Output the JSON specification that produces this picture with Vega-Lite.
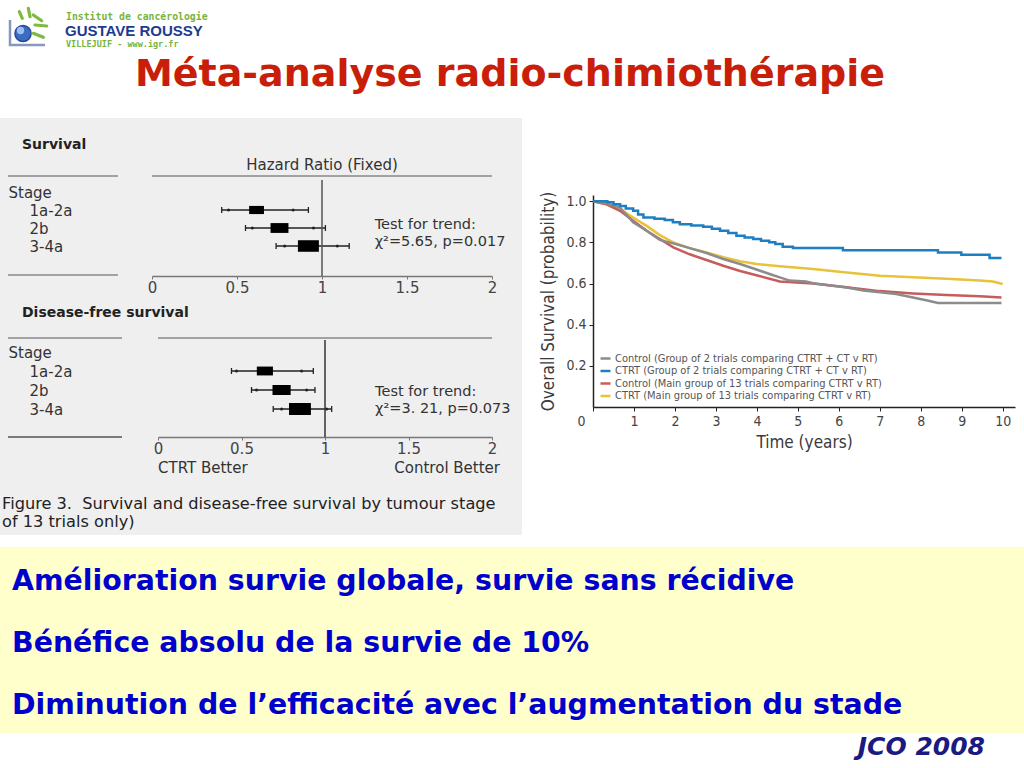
{
  "$schema": "https://vega.github.io/schema/vega-lite/v6.json",
  "padding": 0,
  "background": "#ffffff",
  "spacing": 12,
  "bounds": "full",
  "resolve": {"scale": {"color": "independent", "size": "independent"}, "legend": {"color": "independent", "size": "independent"}},
  "config": {"view": {"stroke": null}, "axis": {"grid": false}},
  "datasets": {
    "forest": [
      {"outcome": "Survival", "stage": "1a-2a", "hr": 0.615, "ci99_lo": 0.41, "ci99_hi": 0.92, "ci95_lo": 0.45, "ci95_hi": 0.83, "weight": 22},
      {"outcome": "Survival", "stage": "2b", "hr": 0.75, "ci99_lo": 0.55, "ci99_hi": 1.02, "ci95_lo": 0.59, "ci95_hi": 0.95, "weight": 32},
      {"outcome": "Survival", "stage": "3-4a", "hr": 0.92, "ci99_lo": 0.73, "ci99_hi": 1.16, "ci95_lo": 0.78, "ci95_hi": 1.09, "weight": 44},
      {"outcome": "DFS", "stage": "1a-2a", "hr": 0.64, "ci99_lo": 0.44, "ci99_hi": 0.93, "ci95_lo": 0.47, "ci95_hi": 0.86, "weight": 26},
      {"outcome": "DFS", "stage": "2b", "hr": 0.74, "ci99_lo": 0.56, "ci99_hi": 0.94, "ci95_lo": 0.59, "ci95_hi": 0.89, "weight": 33},
      {"outcome": "DFS", "stage": "3-4a", "hr": 0.85, "ci99_lo": 0.69, "ci99_hi": 1.04, "ci95_lo": 0.74, "ci95_hi": 1.01, "weight": 48}
    ],
    "arms": [
      {"arm": "ctl2", "label": "Control (Group of 2 trials comparing CTRT + CT v RT)"},
      {"arm": "ctrt2", "label": "CTRT (Group of 2 trials comparing CTRT + CT v RT)"},
      {"arm": "ctl13", "label": "Control (Main group of 13 trials comparing CTRT v RT)"},
      {"arm": "ctrt13", "label": "CTRT (Main group of 13 trials comparing CTRT v RT)"}
    ],
    "km": [
      {"arm": "ctrt2", "t": 0, "s": 1.0}, {"arm": "ctrt2", "t": 0.35, "s": 0.995}, {"arm": "ctrt2", "t": 0.5, "s": 0.985}, {"arm": "ctrt2", "t": 0.66, "s": 0.977}, {"arm": "ctrt2", "t": 0.8, "s": 0.965}, {"arm": "ctrt2", "t": 0.98, "s": 0.953}, {"arm": "ctrt2", "t": 1.1, "s": 0.935}, {"arm": "ctrt2", "t": 1.23, "s": 0.921}, {"arm": "ctrt2", "t": 1.5, "s": 0.915}, {"arm": "ctrt2", "t": 1.75, "s": 0.908}, {"arm": "ctrt2", "t": 1.95, "s": 0.898}, {"arm": "ctrt2", "t": 2.12, "s": 0.888}, {"arm": "ctrt2", "t": 2.4, "s": 0.882}, {"arm": "ctrt2", "t": 2.69, "s": 0.876}, {"arm": "ctrt2", "t": 2.9, "s": 0.866}, {"arm": "ctrt2", "t": 3.1, "s": 0.856}, {"arm": "ctrt2", "t": 3.3, "s": 0.845}, {"arm": "ctrt2", "t": 3.5, "s": 0.832}, {"arm": "ctrt2", "t": 3.7, "s": 0.824}, {"arm": "ctrt2", "t": 3.91, "s": 0.816}, {"arm": "ctrt2", "t": 4.1, "s": 0.808}, {"arm": "ctrt2", "t": 4.3, "s": 0.8}, {"arm": "ctrt2", "t": 4.45, "s": 0.792}, {"arm": "ctrt2", "t": 4.63, "s": 0.778}, {"arm": "ctrt2", "t": 4.88, "s": 0.772}, {"arm": "ctrt2", "t": 6.1, "s": 0.762}, {"arm": "ctrt2", "t": 8.42, "s": 0.751}, {"arm": "ctrt2", "t": 8.99, "s": 0.74}, {"arm": "ctrt2", "t": 9.68, "s": 0.724}, {"arm": "ctrt2", "t": 9.97, "s": 0.724},
      {"arm": "ctrt13", "t": 0, "s": 1.0}, {"arm": "ctrt13", "t": 0.33, "s": 0.985}, {"arm": "ctrt13", "t": 0.66, "s": 0.961}, {"arm": "ctrt13", "t": 0.98, "s": 0.921}, {"arm": "ctrt13", "t": 1.31, "s": 0.88}, {"arm": "ctrt13", "t": 1.63, "s": 0.835}, {"arm": "ctrt13", "t": 1.96, "s": 0.8}, {"arm": "ctrt13", "t": 2.36, "s": 0.772}, {"arm": "ctrt13", "t": 2.77, "s": 0.751}, {"arm": "ctrt13", "t": 3.18, "s": 0.728}, {"arm": "ctrt13", "t": 3.59, "s": 0.708}, {"arm": "ctrt13", "t": 3.99, "s": 0.695}, {"arm": "ctrt13", "t": 4.56, "s": 0.684}, {"arm": "ctrt13", "t": 5.37, "s": 0.67}, {"arm": "ctrt13", "t": 6.19, "s": 0.654}, {"arm": "ctrt13", "t": 7.0, "s": 0.638}, {"arm": "ctrt13", "t": 7.81, "s": 0.63}, {"arm": "ctrt13", "t": 8.63, "s": 0.623}, {"arm": "ctrt13", "t": 9.44, "s": 0.614}, {"arm": "ctrt13", "t": 9.76, "s": 0.61}, {"arm": "ctrt13", "t": 9.93, "s": 0.601}, {"arm": "ctrt13", "t": 10.0, "s": 0.598},
      {"arm": "ctl13", "t": 0, "s": 1.0}, {"arm": "ctl13", "t": 0.33, "s": 0.985}, {"arm": "ctl13", "t": 0.66, "s": 0.953}, {"arm": "ctl13", "t": 0.98, "s": 0.905}, {"arm": "ctl13", "t": 1.31, "s": 0.856}, {"arm": "ctl13", "t": 1.63, "s": 0.816}, {"arm": "ctl13", "t": 1.96, "s": 0.776}, {"arm": "ctl13", "t": 2.36, "s": 0.742}, {"arm": "ctl13", "t": 2.77, "s": 0.714}, {"arm": "ctl13", "t": 3.18, "s": 0.686}, {"arm": "ctl13", "t": 3.59, "s": 0.661}, {"arm": "ctl13", "t": 3.99, "s": 0.64}, {"arm": "ctl13", "t": 4.56, "s": 0.61}, {"arm": "ctl13", "t": 5.37, "s": 0.6}, {"arm": "ctl13", "t": 6.19, "s": 0.582}, {"arm": "ctl13", "t": 7.0, "s": 0.563}, {"arm": "ctl13", "t": 7.81, "s": 0.552}, {"arm": "ctl13", "t": 8.63, "s": 0.544}, {"arm": "ctl13", "t": 9.44, "s": 0.538}, {"arm": "ctl13", "t": 9.97, "s": 0.532},
      {"arm": "ctl2", "t": 0, "s": 1.0}, {"arm": "ctl2", "t": 0.33, "s": 0.99}, {"arm": "ctl2", "t": 0.66, "s": 0.969}, {"arm": "ctl2", "t": 0.98, "s": 0.897}, {"arm": "ctl2", "t": 1.31, "s": 0.856}, {"arm": "ctl2", "t": 1.63, "s": 0.812}, {"arm": "ctl2", "t": 1.96, "s": 0.795}, {"arm": "ctl2", "t": 2.36, "s": 0.772}, {"arm": "ctl2", "t": 2.77, "s": 0.748}, {"arm": "ctl2", "t": 3.18, "s": 0.719}, {"arm": "ctl2", "t": 3.59, "s": 0.695}, {"arm": "ctl2", "t": 3.99, "s": 0.668}, {"arm": "ctl2", "t": 4.4, "s": 0.64}, {"arm": "ctl2", "t": 4.56, "s": 0.63}, {"arm": "ctl2", "t": 4.8, "s": 0.614}, {"arm": "ctl2", "t": 5.2, "s": 0.61}, {"arm": "ctl2", "t": 5.37, "s": 0.601}, {"arm": "ctl2", "t": 6.19, "s": 0.581}, {"arm": "ctl2", "t": 6.6, "s": 0.566}, {"arm": "ctl2", "t": 7.0, "s": 0.557}, {"arm": "ctl2", "t": 7.4, "s": 0.549}, {"arm": "ctl2", "t": 7.81, "s": 0.532}, {"arm": "ctl2", "t": 8.16, "s": 0.517}, {"arm": "ctl2", "t": 8.42, "s": 0.505}, {"arm": "ctl2", "t": 9.97, "s": 0.505}
    ]
  },
  "vconcat": [
    {
      "width": 1024, "height": 106,
      "data": {"values": [{}]},
      "layer": [
        {"mark": {"type": "text", "text": "Méta-analyse radio-chimiothérapie", "font": "DejaVu Sans", "fontWeight": "bold", "fontSize": 38, "color": "#c81e0a", "align": "center", "baseline": "alphabetic"}, "encoding": {"x": {"value": 510}, "y": {"value": 86}}},
        {"mark": {"type": "point", "shape": "M-12.5,-13.5V11.5H22.5", "size": 4, "filled": false, "stroke": "#8797bd", "strokeWidth": 2.5, "opacity": 1}, "encoding": {"x": {"value": 22.5}, "y": {"value": 33.5}}},
        {"mark": {"type": "point", "shape": "circle", "size": 260, "filled": true, "fill": "#3a6cc2", "stroke": "#27489a", "strokeWidth": 1.5, "opacity": 1}, "encoding": {"x": {"value": 23}, "y": {"value": 33.5}}},
        {"mark": {"type": "point", "shape": "circle", "size": 55, "filled": true, "fill": "#a8c8f5", "opacity": 0.9}, "encoding": {"x": {"value": 20.5}, "y": {"value": 30.5}}},
        {"mark": {"type": "point", "shape": "M-3.2,-21.8L-0.2,-15.2M5.8,-25.2L7.5,-16.8M10.8,-18.5L19.2,-12.8M12.5,-8.5L24.2,-7.5M10.8,-0.2L20.8,3.8", "size": 4, "filled": false, "stroke": "#7dba3e", "strokeWidth": 3.2, "strokeCap": "round", "opacity": 1}, "encoding": {"x": {"value": 22.5}, "y": {"value": 33.5}}},
        {"mark": {"type": "text", "text": "Institut de cancérologie", "font": "DejaVu Sans Mono", "fontWeight": "bold", "fontSize": 9.8, "color": "#78b43c", "align": "left", "baseline": "middle"}, "encoding": {"x": {"value": 66}, "y": {"value": 17}}},
        {"mark": {"type": "text", "text": "GUSTAVE ROUSSY", "font": "Liberation Sans", "fontWeight": "bold", "fontSize": 15, "color": "#1e3c8c", "align": "left", "baseline": "alphabetic"}, "encoding": {"x": {"value": 65}, "y": {"value": 36}}},
        {"mark": {"type": "text", "text": "VILLEJUIF - www.igr.fr", "font": "DejaVu Sans Mono", "fontWeight": "bold", "fontSize": 8.5, "color": "#78b43c", "align": "left", "baseline": "middle"}, "encoding": {"x": {"value": 66}, "y": {"value": 44}}}
      ]
    },
    {
      "hconcat": [
        {
          "vconcat": [
            {
              "width": 522, "height": 177,
              "view": {"fill": "#efefef", "stroke": null},
              "layer": [
                {"data": {"values": [{}]}, "mark": {"type": "rule", "color": "#888", "strokeWidth": 1.5}, "encoding": {"x": {"value": 8}, "x2": {"value": 118}, "y": {"value": 58}}},
                {"data": {"values": [{}]}, "mark": {"type": "rule", "color": "#888", "strokeWidth": 1.5}, "encoding": {"x": {"value": 8}, "x2": {"value": 118}, "y": {"value": 157}}},
                {
                  "data": {"name": "forest"},
                  "transform": [{"filter": "datum.outcome == 'Survival'"}],
                  "encoding": {
                    "x": {"field": "hr", "type": "quantitative", "scale": {"domain": [0, 2], "range": [152, 492], "nice": false, "zero": false}, "axis": {"title": null, "values": [0, 0.5, 1, 1.5, 2], "format": "~g", "offset": -19, "grid": false, "domainColor": "#777", "domainWidth": 1.5, "tickColor": "#777", "tickSize": 3, "labelFont": "DejaVu Sans", "labelFontSize": 15, "labelColor": "#444", "labelPadding": 1, "labelFlush": false}},
                    "y": {"field": "stage", "type": "nominal", "scale": {"type": "point", "domain": ["Stage", "1a-2a", "2b", "3-4a"], "range": [74, 128], "padding": 0}, "axis": {"title": null, "domain": false, "ticks": false, "tickSize": 0, "labelAlign": "left", "labelBaseline": "middle", "labelPadding": {"condition": {"test": "datum.value === 'Stage'", "value": -8}, "value": -29}, "labelFont": "DejaVu Sans", "labelFontSize": 15, "labelColor": "#333", "grid": false}}
                  },
                  "layer": [
                    {"mark": {"type": "rule", "color": "#222", "strokeWidth": 1.3}, "encoding": {"x": {"field": "ci99_lo", "type": "quantitative", "axis": {"title": null}}, "x2": {"field": "ci99_hi"}}},
                    {"mark": {"type": "point", "shape": "M0,-1V1", "filled": false, "size": 36, "strokeWidth": 1.3, "color": "#222", "opacity": 1}, "encoding": {"x": {"field": "ci99_lo", "type": "quantitative", "axis": {"title": null}}}},
                    {"mark": {"type": "point", "shape": "M0,-1V1", "filled": false, "size": 36, "strokeWidth": 1.3, "color": "#222", "opacity": 1}, "encoding": {"x": {"field": "ci99_hi", "type": "quantitative", "axis": {"title": null}}}},
                    {"mark": {"type": "point", "filled": true, "size": 9, "color": "#222", "opacity": 1}, "encoding": {"x": {"field": "ci95_lo", "type": "quantitative", "axis": {"title": null}}}},
                    {"mark": {"type": "point", "filled": true, "size": 9, "color": "#222", "opacity": 1}, "encoding": {"x": {"field": "ci95_hi", "type": "quantitative", "axis": {"title": null}}}},
                    {"mark": {"type": "point", "shape": "M-1,-0.55H1V0.55H-1Z", "filled": true, "color": "#000", "opacity": 1}, "encoding": {"size": {"field": "weight", "type": "quantitative", "scale": {"domain": [0, 100], "range": [0, 1000]}, "legend": null}}}
                  ]
                },
                {"data": {"values": [{}]}, "mark": {"type": "rule", "color": "#888", "strokeWidth": 1.5}, "encoding": {"x": {"datum": 0, "type": "quantitative", "axis": {"title": null}}, "x2": {"datum": 2}, "y": {"value": 58}}},
                {"data": {"values": [{}]}, "mark": {"type": "rule", "color": "#555", "strokeWidth": 1.5}, "encoding": {"x": {"datum": 1, "type": "quantitative", "axis": {"title": null}}, "y": {"value": 62}, "y2": {"value": 158}}},
                {"data": {"values": [{}]}, "mark": {"type": "text", "text": "Survival", "font": "DejaVu Sans", "fontWeight": "bold", "fontSize": 14, "color": "#222", "align": "left", "baseline": "middle"}, "encoding": {"x": {"value": 22}, "y": {"value": 27}}},
                {"data": {"values": [{}]}, "mark": {"type": "text", "text": "Hazard Ratio (Fixed)", "font": "DejaVu Sans", "fontSize": 15, "color": "#333", "align": "center", "baseline": "middle"}, "encoding": {"x": {"datum": 1, "type": "quantitative", "axis": {"title": null}}, "y": {"value": 47}}},
                {"data": {"values": [{}]}, "mark": {"type": "text", "text": "Test for trend:", "font": "DejaVu Sans", "fontSize": 14.5, "color": "#333", "align": "left", "baseline": "middle"}, "encoding": {"x": {"datum": 1.31, "type": "quantitative", "axis": {"title": null}}, "y": {"value": 106.5}}},
                {"data": {"values": [{}]}, "mark": {"type": "text", "text": "χ²=5.65, p=0.017", "font": "DejaVu Sans", "fontSize": 14.5, "color": "#333", "align": "left", "baseline": "middle"}, "encoding": {"x": {"datum": 1.31, "type": "quantitative", "axis": {"title": null}}, "y": {"value": 124}}}
              ]
            },
            {
              "width": 522, "height": 240,
              "view": {"fill": "#efefef", "stroke": null},
              "layer": [
                {"data": {"values": [{}]}, "mark": {"type": "rule", "color": "#888", "strokeWidth": 1.5}, "encoding": {"x": {"value": 8}, "x2": {"value": 122}, "y": {"value": 43}}},
                {"data": {"values": [{}]}, "mark": {"type": "rule", "color": "#555", "strokeWidth": 1.5}, "encoding": {"x": {"value": 8}, "x2": {"value": 122}, "y": {"value": 142}}},
                {
                  "data": {"name": "forest"},
                  "transform": [{"filter": "datum.outcome == 'DFS'"}],
                  "encoding": {
                    "x": {"field": "hr", "type": "quantitative", "scale": {"domain": [0, 2], "range": [158, 492], "nice": false, "zero": false}, "axis": {"title": null, "values": [0, 0.5, 1, 1.5, 2], "format": "~g", "offset": -98, "grid": false, "domainColor": "#777", "domainWidth": 1.5, "tickColor": "#777", "tickSize": 3, "labelFont": "DejaVu Sans", "labelFontSize": 15, "labelColor": "#444", "labelPadding": 1, "labelFlush": false}},
                    "y": {"field": "stage", "type": "nominal", "scale": {"type": "point", "domain": ["Stage", "1a-2a", "2b", "3-4a"], "range": [57, 114], "padding": 0}, "axis": {"title": null, "domain": false, "ticks": false, "tickSize": 0, "labelAlign": "left", "labelBaseline": "middle", "labelPadding": {"condition": {"test": "datum.value === 'Stage'", "value": -8}, "value": -29}, "labelFont": "DejaVu Sans", "labelFontSize": 15, "labelColor": "#333", "grid": false}}
                  },
                  "layer": [
                    {"mark": {"type": "rule", "color": "#222", "strokeWidth": 1.3}, "encoding": {"x": {"field": "ci99_lo", "type": "quantitative", "axis": {"title": null}}, "x2": {"field": "ci99_hi"}}},
                    {"mark": {"type": "point", "shape": "M0,-1V1", "filled": false, "size": 36, "strokeWidth": 1.3, "color": "#222", "opacity": 1}, "encoding": {"x": {"field": "ci99_lo", "type": "quantitative", "axis": {"title": null}}}},
                    {"mark": {"type": "point", "shape": "M0,-1V1", "filled": false, "size": 36, "strokeWidth": 1.3, "color": "#222", "opacity": 1}, "encoding": {"x": {"field": "ci99_hi", "type": "quantitative", "axis": {"title": null}}}},
                    {"mark": {"type": "point", "filled": true, "size": 9, "color": "#222", "opacity": 1}, "encoding": {"x": {"field": "ci95_lo", "type": "quantitative", "axis": {"title": null}}}},
                    {"mark": {"type": "point", "filled": true, "size": 9, "color": "#222", "opacity": 1}, "encoding": {"x": {"field": "ci95_hi", "type": "quantitative", "axis": {"title": null}}}},
                    {"mark": {"type": "point", "shape": "M-1,-0.55H1V0.55H-1Z", "filled": true, "color": "#000", "opacity": 1}, "encoding": {"size": {"field": "weight", "type": "quantitative", "scale": {"domain": [0, 100], "range": [0, 1000]}, "legend": null}}}
                  ]
                },
                {"data": {"values": [{}]}, "mark": {"type": "rule", "color": "#888", "strokeWidth": 1.5}, "encoding": {"x": {"datum": 0, "type": "quantitative", "axis": {"title": null}}, "x2": {"datum": 2}, "y": {"value": 43}}},
                {"data": {"values": [{}]}, "mark": {"type": "rule", "color": "#333", "strokeWidth": 1.5}, "encoding": {"x": {"datum": 1, "type": "quantitative", "axis": {"title": null}}, "y": {"value": 45}, "y2": {"value": 142}}},
                {"data": {"values": [{}]}, "mark": {"type": "text", "text": "Disease-free survival", "font": "DejaVu Sans", "fontWeight": "bold", "fontSize": 14, "color": "#222", "align": "left", "baseline": "middle"}, "encoding": {"x": {"value": 22}, "y": {"value": 18}}},
                {"data": {"values": [{}]}, "mark": {"type": "text", "text": "Test for trend:", "font": "DejaVu Sans", "fontSize": 14.5, "color": "#333", "align": "left", "baseline": "middle"}, "encoding": {"x": {"datum": 1.3, "type": "quantitative", "axis": {"title": null}}, "y": {"value": 97}}},
                {"data": {"values": [{}]}, "mark": {"type": "text", "text": "χ²=3. 21, p=0.073", "font": "DejaVu Sans", "fontSize": 14.5, "color": "#333", "align": "left", "baseline": "middle"}, "encoding": {"x": {"datum": 1.3, "type": "quantitative", "axis": {"title": null}}, "y": {"value": 113.5}}},
                {"data": {"values": [{}]}, "mark": {"type": "text", "text": "CTRT Better", "font": "DejaVu Sans", "fontSize": 15, "color": "#333", "align": "left", "baseline": "middle"}, "encoding": {"x": {"datum": 0, "type": "quantitative", "axis": {"title": null}}, "y": {"value": 173}}},
                {"data": {"values": [{}]}, "mark": {"type": "text", "text": "Control Better", "font": "DejaVu Sans", "fontSize": 15, "color": "#333", "align": "right", "baseline": "middle", "dx": 8}, "encoding": {"x": {"datum": 2, "type": "quantitative", "axis": {"title": null}}, "y": {"value": 173}}},
                {"data": {"values": [{}]}, "mark": {"type": "text", "text": "Figure 3.\u00a0 Survival and disease-free survival by tumour stage (main group", "font": "DejaVu Sans", "fontSize": 16.2, "color": "#222", "align": "left", "baseline": "middle", "limit": 500, "ellipsis": "\u00a0"}, "encoding": {"x": {"value": 2}, "y": {"value": 209}}},
                {"data": {"values": [{}]}, "mark": {"type": "text", "text": "of 13 trials only)", "font": "DejaVu Sans", "fontSize": 16.2, "color": "#222", "align": "left", "baseline": "middle"}, "encoding": {"x": {"value": 2}, "y": {"value": 227}}}
              ]
            }
          ],
          "spacing": 0,
          "bounds": "flush"
        },
        {
          "vconcat": [
            {"width": 422, "height": 77, "data": {"values": [{}]}, "mark": {"type": "text", "text": ""}, "encoding": {}},
            {
              "width": 422, "height": 212,
              "data": {"name": "km"},
              "transform": [{"lookup": "arm", "from": {"data": {"name": "arms"}, "key": "arm", "fields": ["label"]}}],
              "encoding": {
                "x": {"field": "t", "type": "quantitative", "scale": {"domain": [0, 10.3], "nice": false, "zero": false}, "axis": {"values": [0, 1, 2, 3, 4, 5, 6, 7, 8, 9, 10], "title": "Time (years)", "titleFont": "Liberation Sans Narrow, DejaVu Sans Condensed, sans-serif", "titleFontSize": 17, "titleFontWeight": "normal", "titleColor": "#3a3a3a", "titlePadding": 6, "labelFont": "Liberation Sans Narrow, DejaVu Sans Condensed, sans-serif", "labelFontSize": 14, "labelColor": "#444", "labelPadding": 3, "labelFlush": false, "labelOffset": {"condition": {"test": "datum.value === 0", "value": -12}, "value": 0}, "tickSize": 4, "tickColor": "#222", "domainColor": "#222", "domainWidth": 1.5, "grid": false}},
                "y": {"field": "s", "type": "quantitative", "scale": {"domain": [0, 1.03], "nice": false}, "axis": {"values": [0.2, 0.4, 0.6, 0.8, 1.0], "format": ".1f", "title": "Overall Survival (probability)", "titleFont": "Liberation Sans Narrow, DejaVu Sans Condensed, sans-serif", "titleFontSize": 17, "titleFontWeight": "normal", "titleColor": "#3a3a3a", "titlePadding": 8, "labelFont": "Liberation Sans Narrow, DejaVu Sans Condensed, sans-serif", "labelFontSize": 14, "labelColor": "#444", "labelPadding": 3, "tickSize": 4, "tickColor": "#222", "domainColor": "#222", "domainWidth": 1.5, "grid": false}},
                "color": {"field": "label", "type": "nominal", "scale": {"domain": ["Control (Group of 2 trials comparing CTRT + CT v RT)", "CTRT (Group of 2 trials comparing CTRT + CT v RT)", "Control (Main group of 13 trials comparing CTRT v RT)", "CTRT (Main group of 13 trials comparing CTRT v RT)"], "range": ["#8c8c8c", "#1d7fc1", "#c75c5c", "#e8c23a"]}, "legend": {"orient": "bottom-left", "offset": 6, "title": null, "symbolType": "stroke", "symbolStrokeWidth": 2.5, "symbolSize": 100, "labelFont": "Liberation Sans Narrow, DejaVu Sans Condensed, sans-serif", "labelFontSize": 11, "labelColor": "#555", "rowPadding": 0.5, "padding": 0, "labelOffset": 3, "labelLimit": 400}}
              },
              "layer": [
                {"transform": [{"filter": "datum.arm != 'ctrt2'"}], "mark": {"type": "line", "strokeWidth": 2.5}},
                {"transform": [{"filter": "datum.arm == 'ctrt2'"}], "mark": {"type": "line", "strokeWidth": 2.5, "interpolate": "step-after"}}
              ]
            }
          ],
          "spacing": 0,
          "bounds": "flush",
          "resolve": {"scale": {"color": "independent"}, "legend": {"color": "independent"}}
        }
      ],
      "spacing": 17,
      "bounds": "full",
      "resolve": {"scale": {"color": "independent", "size": "independent"}, "legend": {"color": "independent", "size": "independent"}}
    },
    {
      "width": 1024, "height": 186,
      "view": {"fill": "#ffffcc", "stroke": null},
      "title": {"text": "JCO 2008", "orient": "bottom", "anchor": "end", "frame": "group", "offset": 22, "dx": -39, "baseline": "alphabetic", "font": "DejaVu Sans", "fontSize": 25, "fontWeight": "bold", "fontStyle": "italic", "color": "#1a1a80"},
      "data": {"values": [
        {"line": 1, "text": "Amélioration survie globale, survie sans récidive"},
        {"line": 2, "text": "Bénéfice absolu de la survie de 10%"},
        {"line": 3, "text": "Diminution de l’efficacité avec l’augmentation du stade"}
      ]},
      "mark": {"type": "text", "align": "left", "baseline": "middle", "font": "DejaVu Sans", "fontSize": 28.4, "fontWeight": "bold", "color": "#0000cc"},
      "encoding": {
        "x": {"value": 12},
        "y": {"field": "line", "type": "ordinal", "scale": {"type": "point", "range": [34, 158], "padding": 0}, "axis": null},
        "text": {"field": "text"}
      }
    }
  ]
}
